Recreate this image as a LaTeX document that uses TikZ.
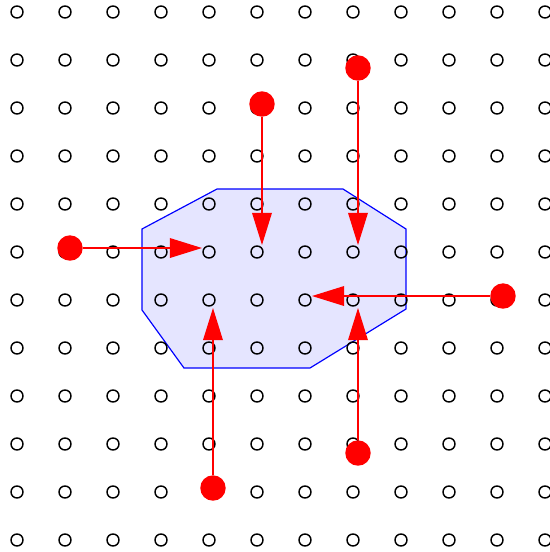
\documentclass[tikz,border=0pt]{standalone}
\usetikzlibrary{arrows.meta}
\begin{document}
\begin{tikzpicture}[x=1cm, y=1cm,
    punto/.style={circle, fill=red, inner sep=0pt, minimum width=5.3mm, minimum height=5mm},
    flecha/.style={red, line width=0.8pt, -{Triangle[length=6.7mm, width=4.1mm]}}]
    \useasboundingbox (-0.354,0.25) rectangle (11.104,-11.25);

    % Región poligonal
    \filldraw[blue, fill=blue!10, line width=0.7pt]
        (2.604,-4.521) -- (4.167,-3.688) -- (6.792,-3.688) -- (8.104,-4.521)
        -- (8.104,-6.188) -- (6.104,-7.417) -- (3.479,-7.417) -- (2.604,-6.208) -- cycle;

    % Rejilla de círculos
    \foreach \i in {0,...,11} {
        \foreach \j in {0,...,11} {
            \draw[line width=0.85pt] (\i,-\j) circle (0.125);
        }
    }

    % Puntos y flechas
    \foreach \n/\px/\py/\tx/\ty in {1/7.104/-1.167/7.104/-4.854,
                                    2/5.104/-1.917/5.104/-4.854,
                                    3/1.104/-4.917/3.854/-4.917,
                                    4/10.125/-5.917/6.146/-5.917,
                                    5/7.104/-9.188/7.104/-6.167,
                                    6/4.083/-9.917/4.083/-6.167} {
        \node[punto] (p\n) at (\px,\py) {};
        \coordinate (t\n) at (\tx,\ty);
        \draw[flecha] (p\n) -- (t\n);
    }

\end{tikzpicture}
\end{document}
